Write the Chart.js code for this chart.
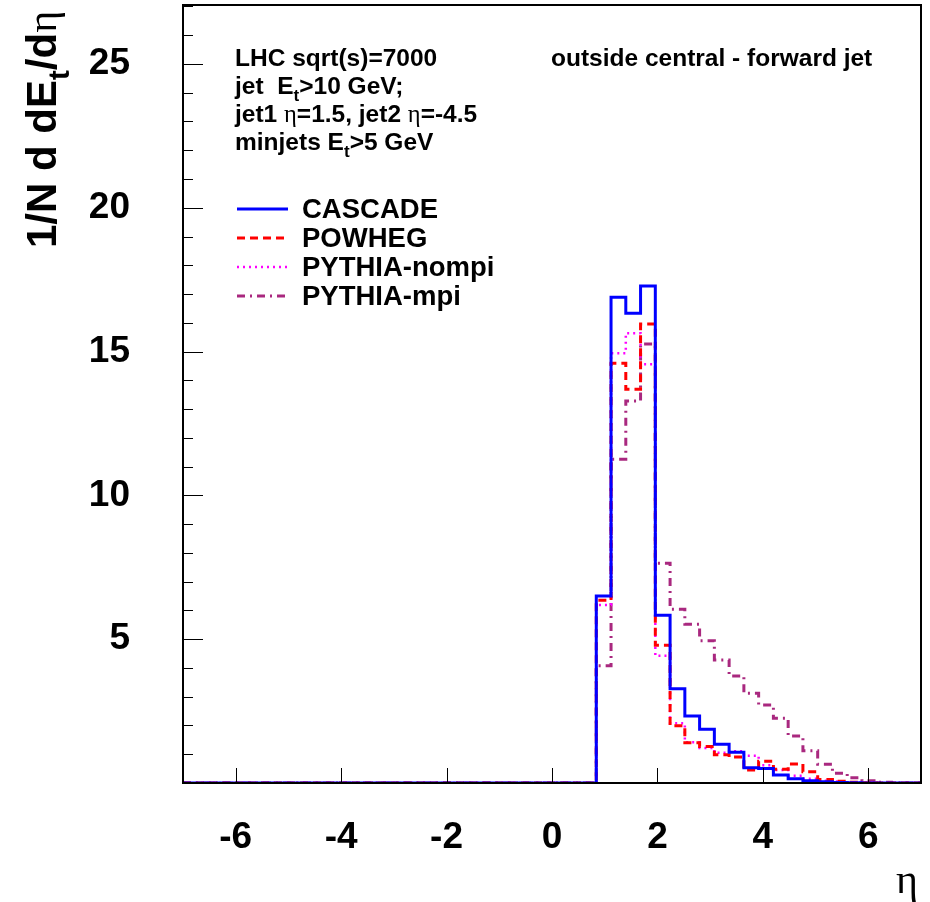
<!DOCTYPE html>
<html>
<head>
<meta charset="utf-8">
<script src="https://cdn.jsdelivr.net/npm/chart.js@4.4.1/dist/chart.umd.min.js"></script>
<style>
  html, body { margin: 0; padding: 0; background: #fff; }
  canvas { display: block; }
</style>
</head>
<body>
<canvas id="EtaFlowChart" width="930" height="902"></canvas>
<script>
// histogram binning: 50 bins from -7 to 7
var etaMin = -7;
var binWidth = 0.28;

var xTicks = [-6, -4, -2, 0, 2, 4, 6];
var yTicks = [5, 10, 15, 20, 25];

var seriesNames = ["CASCADE", "POWHEG", "PYTHIA-nompi", "PYTHIA-mpi"];

var cascade = [
    0, 0, 0, 0, 0, 0, 0, 0, 0, 0,
    0, 0, 0, 0, 0, 0, 0, 0, 0, 0,
    0, 0, 0, 0, 0, 0, 0, 0, 6.50, 16.89,
    16.33, 17.28, 5.83, 3.28, 2.33, 1.87, 1.35, 1.07, 0.53, 0.50,
    0.28, 0.15, 0.08, 0.04, 0.02, 0.01, 0, 0, 0, 0
];
var powheg = [
    0, 0, 0, 0, 0, 0, 0, 0, 0, 0,
    0, 0, 0, 0, 0, 0, 0, 0, 0, 0,
    0, 0, 0, 0, 0, 0, 0, 0, 6.35, 14.59,
    13.69, 15.96, 4.79, 1.99, 1.40, 1.27, 0.98, 0.90, 0.45, 0.76,
    0.48, 0.66, 0.39, 0.12, 0.06, 0.03, 0.01, 0, 0, 0
];
var pythiaNompi = [
    0, 0, 0, 0, 0, 0, 0, 0, 0, 0,
    0, 0, 0, 0, 0, 0, 0, 0, 0, 0,
    0, 0, 0, 0, 0, 0, 0, 0, 6.19, 14.94,
    15.64, 14.56, 4.42, 2.08, 1.42, 1.22, 1.05, 1.10, 0.95, 0.62,
    0.45, 0.25, 0.15, 0.08, 0.05, 0.02, 0.01, 0, 0, 0
];
var pythiaMpi = [
    0, 0, 0, 0, 0, 0, 0, 0, 0, 0,
    0, 0, 0, 0, 0, 0, 0, 0, 0, 0,
    0, 0, 0, 0, 0, 0, 0, 0, 4.08, 11.26,
    13.28, 15.26, 7.64, 6.04, 5.52, 4.95, 4.28, 3.72, 3.12, 2.71,
    2.25, 1.63, 1.12, 0.65, 0.34, 0.18, 0.08, 0.03, 0.01, 0
];

var SANS = "'Liberation Sans', Arial, Helvetica, sans-serif";
var SERIF = "'Liberation Serif', 'DejaVu Serif', serif";

// step points at the left edge of every bin, plus the closing edge
function histPoints(values) {
    var pts = [];
    for (var i = 0; i < values.length; ++i) {
        pts.push({x: etaMin + i * binWidth, y: values[i]});
    }
    pts.push({x: etaMin + values.length * binWidth, y: values[values.length - 1]});
    return pts;
}

function histDataset(label, values, color, dash, width) {
    return {
        label: label,
        data: histPoints(values),
        stepped: true,
        borderColor: color,
        backgroundColor: color,
        borderWidth: width,
        borderDash: dash,
        borderCapStyle: 'butt',
        borderJoinStyle: 'miter',
        pointRadius: 0,
        fill: false,
        tension: 0
    };
}

// text with subscripts and greek letters, drawn part by part
function drawRich(ctx, x, y, parts, size) {
    for (var i = 0; i < parts.length; ++i) {
        var p = parts[i];
        var fs = p.sub ? size * 0.7 : size;
        var dy = p.sub ? size * 0.3 : 0;
        ctx.font = (p.greek ? "" : "bold ") + fs + "px " + (p.greek ? SERIF : SANS);
        ctx.fillText(p.t, x, y + dy);
        x += ctx.measureText(p.t).width;
    }
}

var framePlugin = {
    id: 'frame',
    beforeDraw: function (chart) {
        var ctx = chart.ctx;
        ctx.save();
        ctx.fillStyle = '#fff';
        ctx.fillRect(0, 0, chart.width, chart.height);
        ctx.restore();
    },
    afterDraw: function (chart) {
        var ctx = chart.ctx;
        var a = chart.chartArea;
        var xs = chart.scales.x;
        var ys = chart.scales.y;
        ctx.save();
        ctx.strokeStyle = '#000';

        // tick marks inside the frame
        ctx.lineWidth = 1;
        ctx.beginPath();
        xTicks.forEach(function (v) {
            var px = Math.round(xs.getPixelForValue(v)) + 0.5;
            ctx.moveTo(px, a.bottom);
            ctx.lineTo(px, a.bottom - 15);
        });
        for (var v = 1; v <= 27; ++v) {
            var py = Math.round(ys.getPixelForValue(v)) + 0.5;
            ctx.moveTo(a.left, py);
            ctx.lineTo(a.left + (v % 5 == 0 ? 20 : 10), py);
        }
        ctx.stroke();

        // frame
        ctx.lineWidth = 2;
        ctx.strokeRect(a.left, a.top, a.right - a.left, a.bottom - a.top);

        // info texts
        ctx.fillStyle = '#000';
        ctx.textAlign = 'left';
        ctx.textBaseline = 'alphabetic';
        drawRich(ctx, 235, 66, [{t: "LHC sqrt(s)=7000"}], 24.5);
        drawRich(ctx, 235, 94, [{t: "jet  E"}, {t: "t", sub: true}, {t: ">10 GeV;"}], 24.5);
        drawRich(ctx, 235, 122, [{t: "jet1 "}, {t: "η", greek: true}, {t: "=1.5, jet2 "}, {t: "η", greek: true}, {t: "=-4.5"}], 24.5);
        drawRich(ctx, 235, 150, [{t: "minjets E"}, {t: "t", sub: true}, {t: ">5 GeV"}], 24.5);
        drawRich(ctx, 551, 66, [{t: "outside central - forward jet"}], 24.5);

        // legend
        var rows = [209, 238, 267, 296];
        chart.data.datasets.forEach(function (ds, i) {
            ctx.strokeStyle = ds.borderColor;
            ctx.lineWidth = ds.borderWidth;
            ctx.setLineDash(ds.borderDash);
            ctx.beginPath();
            ctx.moveTo(237, rows[i]);
            ctx.lineTo(288, rows[i]);
            ctx.stroke();
            ctx.setLineDash([]);
            ctx.fillStyle = '#000';
            ctx.textBaseline = 'middle';
            ctx.font = "bold 27.5px " + SANS;
            ctx.fillText(ds.label, 302, rows[i] + 1);
        });

        // axis titles
        ctx.textBaseline = 'alphabetic';
        ctx.fillStyle = '#000';
        ctx.save();
        ctx.translate(56, 248);
        ctx.rotate(-Math.PI / 2);
        drawRich(ctx, 0, 0, [{t: "1/N d dE"}, {t: "t", sub: true}, {t: "/d"}, {t: "η", greek: true}], 42);
        ctx.restore();

        ctx.textAlign = 'right';
        ctx.font = "42px " + SERIF;
        ctx.fillText("η", 918, 893);
        ctx.restore();
    }
};

document.addEventListener('DOMContentLoaded', function () {
    var canvas = document.getElementById("EtaFlowChart");

    var chart = new Chart(canvas, {
        type: 'line',
        data: {
            datasets: [
                histDataset(seriesNames[0], cascade, '#0000ff', [], 3),
                histDataset(seriesNames[1], powheg, '#ff0000', [8, 5], 3),
                histDataset(seriesNames[2], pythiaNompi, '#ff00ff', [2, 4], 2.5),
                histDataset(seriesNames[3], pythiaMpi, '#a9287f', [8, 5, 2, 5], 3)
            ]
        },
        options: {
            responsive: false,
            animation: false,
            devicePixelRatio: 1,
            layout: {padding: {left: 0, top: 5, right: 9, bottom: 0}},
            scales: {
                x: {
                    type: 'linear',
                    min: -7,
                    max: 7,
                    grid: {display: false},
                    border: {display: false},
                    ticks: {
                        color: '#000',
                        font: {family: SANS, size: 37, weight: 'bold'},
                        padding: 25,
                        maxRotation: 0,
                        autoSkip: false
                    },
                    afterBuildTicks: function (s) {
                        s.ticks = xTicks.map(function (v) { return {value: v}; });
                    },
                    afterFit: function (s) {
                        s.height = 119;
                        s.paddingLeft = 0;
                        s.paddingRight = 0;
                    }
                },
                y: {
                    type: 'linear',
                    min: 0,
                    max: 27.05,
                    grid: {display: false},
                    border: {display: false},
                    ticks: {
                        color: '#000',
                        font: {family: SANS, size: 37, weight: 'bold'},
                        padding: 45,
                        autoSkip: false
                    },
                    afterBuildTicks: function (s) {
                        s.ticks = yTicks.map(function (v) { return {value: v}; });
                    },
                    afterFit: function (s) {
                        s.width = 183;
                        s.paddingTop = 0;
                        s.paddingBottom = 0;
                    }
                }
            },
            plugins: {
                legend: {display: false},
                tooltip: {enabled: false}
            }
        },
        plugins: [framePlugin]
    });
});
</script>
</body>
</html>
